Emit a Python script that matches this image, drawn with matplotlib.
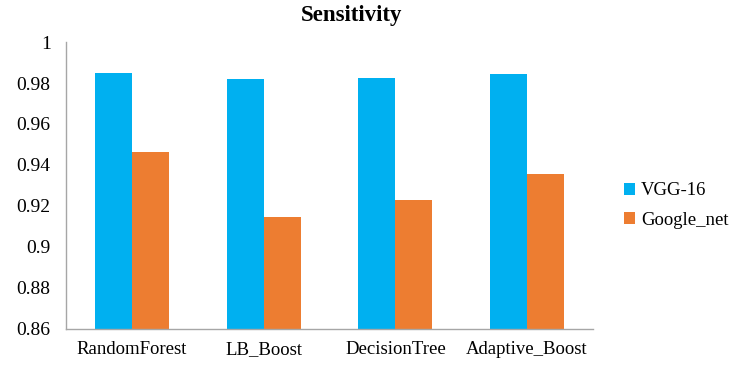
import matplotlib.pyplot as plt
import numpy as np

plt.rcParams['font.family'] = ['Liberation Serif', 'DejaVu Serif']

models = ['RandomForest', 'LB_Boost', 'DecisionTree', 'Adaptive_Boost']
vgg16 = [0.9847, 0.9818, 0.9824, 0.9844]
google_net = [0.9463, 0.9146, 0.9229, 0.9356]
yticks = [0.86, 0.88, 0.9, 0.92, 0.94, 0.96, 0.98, 1]
ytick_labels = ['0.86', '0.88', '0.9', '0.92', '0.94', '0.96', '0.98', '1']

fig = plt.figure(figsize=(7.33, 3.66), dpi=100)
ax = fig.add_axes([66 / 733, 0.102, (593 - 66) / 733, 0.783])

x = np.arange(len(models))
w = 0.28
ax.bar(x - w / 2, vgg16, w, color='#00B0F0', label='VGG-16')
ax.bar(x + w / 2, google_net, w, color='#ED7D31', label='Google_net')

ax.set_xlim(-0.5, len(models) - 0.5)
ax.set_ylim(0.86, 1.0)
ax.set_yticks(yticks)
ax.set_yticklabels(ytick_labels, fontsize=14)
ax.set_xticks(x)
ax.set_xticklabels(models, fontsize=13.5)
ax.tick_params(length=0)
ax.tick_params(axis='x', pad=9)
ax.tick_params(axis='y', pad=11)
for s in ['top', 'right']:
    ax.spines[s].set_visible(False)
for s in ['left', 'bottom']:
    ax.spines[s].set_color('#A6A6A6')
    ax.spines[s].set_linewidth(1.0)

fig.text(0.479, 0.958, 'Sensitivity', ha='center', va='center',
         fontsize=16.5, fontweight='bold')

ax.legend(loc='center left', bbox_to_anchor=(1.045, 0.43), frameon=False,
          fontsize=13.5, handlelength=0.6, handleheight=0.6,
          handletextpad=0.3, labelspacing=0.65, borderaxespad=0)

fig.savefig('out.png', dpi=100)
